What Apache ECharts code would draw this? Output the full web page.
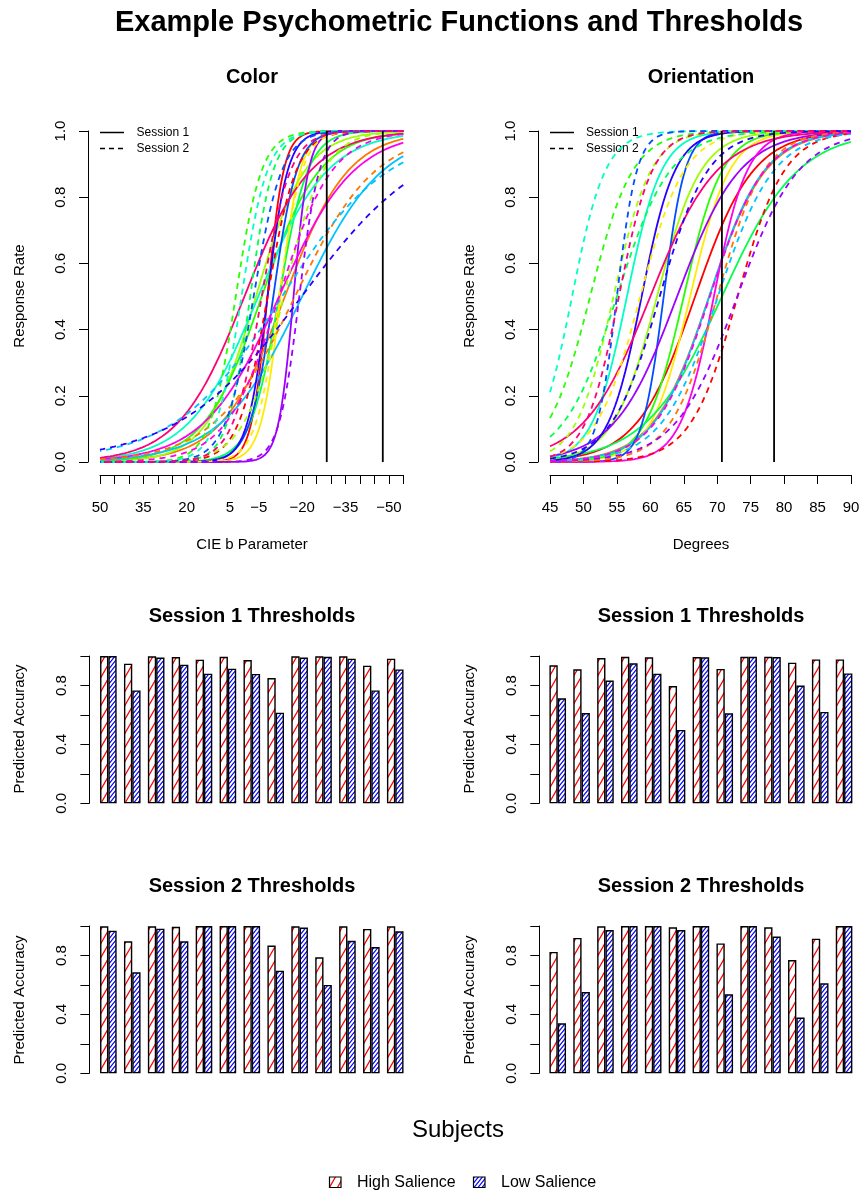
<!DOCTYPE html>
<html>
<head>
<meta charset="utf-8">
<script src="https://cdn.jsdelivr.net/npm/echarts@6/dist/echarts.min.js"></script>
<style>
  html, body { margin: 0; padding: 0; background: #fff; }
  #chart { width: 863px; height: 1191px; }
</style>
</head>
<body>
<div id="chart"></div>
<script>
// Subject colours (rainbow of 13 hues)
const subjectColors = ['#FF0000', '#FF7600', '#FFEB00', '#9DFF00', '#27FF00', '#00FF4E', '#00FFC4',
                       '#00C4FF', '#004EFF', '#2700FF', '#9D00FF', '#FF00EB', '#FF0076'];

// Psychometric fits, colour task (CIE b): 50% point and logistic spread per subject
const colorS1Mid   = [-8, -14, -12.5, -4, -6, -12, -4.8, -20, -10, -8, -17, -12, 0];
const colorS1Scale = [2.8, 11, 3.4, 8.5, 10, 5, 12, 14, 4.1, 3.5, 2.6, 13, 11.5];
const colorS2Mid   = [-8, -17.5, -12, -13.6, 3, -2, 1, -13, -3.2, -19.8, -19, -12, -6];
const colorS2Scale = [5, 14, 4, 6.9, 4.5, 4, 4.5, 18.6, 4.9, 21.5, 3.5, 9.2, 5];
const colorThresholds = [-28.5, -47.9];

// Psychometric fits, orientation task (degrees)
const orientS1Mid   = [66.7, 68.8, 65.95, 61, 65, 70.7, 56.5, 68.8, 62, 58.7, 64, 69.5, 60];
const orientS1Scale = [4.36, 4.22, 2.95, 3.3, 2.88, 5.7, 2.6, 4.13, 1.6, 2.5, 4.7, 2.5, 5];
const orientS2Mid   = [73.05, 70, 58.5, 54.5, 51, 55, 48.3, 70.1, 55, 61.4, 73, 68.9, 55.3];
const orientS2Scale = [3.5, 3.5, 3.3, 2.8, 3.2, 4, 2.5, 4.2, 1.5, 3.6, 4.6, 4.1, 2.5];
const orientThresholds = [70.7, 78.5];

// Predicted accuracy at the high / low salience thresholds
const subjects = ['1','2','3','4','5','6','7','8','9','10','11','12','13'];
const colorS1High  = [1.0, 0.948, 0.998, 0.993, 0.975, 0.995, 0.973, 0.85, 0.998, 0.998, 0.998, 0.934, 0.982];
const colorS1Low   = [1.0, 0.766, 0.989, 0.941, 0.88, 0.914, 0.878, 0.615, 0.989, 0.995, 0.982, 0.766, 0.909];
const colorS2High  = [0.998, 0.896, 0.998, 0.995, 1.0, 1.0, 1.0, 0.867, 0.998, 0.787, 0.998, 0.98, 0.998];
const colorS2Low   = [0.968, 0.686, 0.982, 0.896, 1.0, 1.0, 1.0, 0.697, 0.989, 0.60, 0.90, 0.857, 0.964];
const orientS1High = [0.937, 0.91, 0.986, 0.995, 0.991, 0.796, 0.993, 0.912, 0.995, 0.995, 0.955, 0.977, 0.977];
const orientS1Low  = [0.713, 0.613, 0.833, 0.95, 0.88, 0.498, 0.991, 0.611, 0.995, 0.993, 0.799, 0.62, 0.882];
const orientS2High = [0.824, 0.919, 0.998, 1.0, 1.0, 0.991, 1.0, 0.882, 1.0, 0.991, 0.769, 0.914, 1.0];
const orientS2Low  = [0.339, 0.552, 0.973, 1.0, 1.0, 0.973, 1.0, 0.536, 1.0, 0.928, 0.378, 0.611, 1.0];

// Axis tick labels
const colorTickLabels = [50, 35, 20, 5, -5, -20, -35, -50];
const orientTickLabels = [45, 50, 55, 60, 65, 70, 75, 80, 85, 90];

const FONT = '"Liberation Sans", Arial, Helvetica, sans-serif';

// logistic psychometric function
function psy(x, mid, scale, sign) {
  return 1 / (1 + Math.exp(-sign * (x - mid) / scale));
}
function curve(mid, scale, sign, lo, hi, step) {
  const pts = [];
  for (let x = lo; x <= hi + 1e-9; x += step) pts.push([+x.toFixed(3), psy(x, mid, scale, sign)]);
  return pts;
}

// hatching tiles for the bar fills
function hatch(color, w, h, lw) {
  const c = document.createElement('canvas');
  c.width = w; c.height = h;
  const g = c.getContext('2d');
  g.fillStyle = '#ffffff';
  g.fillRect(0, 0, w, h);
  g.strokeStyle = color;
  g.lineWidth = lw;
  g.beginPath();
  for (let n = -1; n <= 1; n++) {
    g.moveTo(-w, (2 + n) * h);
    g.lineTo(2 * w, (-1 + n) * h);
  }
  g.stroke();
  return c;
}
const redHatch = { image: hatch('#FF0000', 8, 14, 1.3), repeat: 'repeat' };
const blueHatch = { image: hatch('#0000FF', 4, 5, 1.1), repeat: 'repeat' };

const chart = echarts.init(document.getElementById('chart'), null, { renderer: 'canvas' });

const grids = [
  { left: 100, top: 131, width: 303.3, height: 331 },    // colour curves
  { left: 550, top: 131, width: 301, height: 331 },      // orientation curves
  { left: 96.4, top: 656, width: 310.8, height: 147.3 }, // colour S1 bars
  { left: 545.8, top: 656, width: 310.2, height: 147.3 },// orientation S1 bars
  { left: 96.4, top: 926, width: 310.8, height: 147.3 }, // colour S2 bars
  { left: 545.8, top: 926, width: 310.2, height: 147.3 } // orientation S2 bars
];

const axisTxt = { color: '#000', fontFamily: FONT, fontSize: 15 };
const blackLine = { show: true, onZero: false, lineStyle: { color: '#000', width: 1 } };
const outTick = { show: true, inside: false, length: 9, lineStyle: { color: '#000', width: 1 } };

function fmtNum(v) { return v < 0 ? '\u2212' + Math.abs(v) : String(v); }

const xAxes = [
  { gridIndex: 0, type: 'value', min: -55, max: 50, interval: 5, inverse: true, offset: 13,
    axisLine: blackLine, axisTick: outTick, splitLine: { show: false },
    axisLabel: Object.assign({ margin: 25, showMinLabel: true, showMaxLabel: true,
      formatter: v => colorTickLabels.indexOf(Math.round(v)) >= 0 ? fmtNum(Math.round(v)) : '' }, axisTxt) },
  { gridIndex: 1, type: 'value', min: 45, max: 90, interval: 5, offset: 13,
    axisLine: blackLine, axisTick: outTick, splitLine: { show: false },
    axisLabel: Object.assign({ margin: 25,
      formatter: v => orientTickLabels.indexOf(Math.round(v)) >= 0 ? String(Math.round(v)) : '' }, axisTxt) }
];
for (let g = 2; g < 6; g++) {
  xAxes.push({ gridIndex: g, type: 'category', data: subjects,
    axisLine: { show: false, onZero: false }, axisTick: { show: false }, axisLabel: { show: false }, splitLine: { show: false } });
}

const yAxes = [
  { gridIndex: 0, type: 'value', min: 0, max: 1, interval: 0.2, offset: 12,
    axisLine: blackLine, axisTick: outTick, splitLine: { show: false },
    axisLabel: Object.assign({ rotate: 90, margin: 20, formatter: v => v.toFixed(1) }, axisTxt) },
  { gridIndex: 1, type: 'value', min: 0, max: 1, interval: 0.2, offset: 12,
    axisLine: blackLine, axisTick: outTick, splitLine: { show: false },
    axisLabel: Object.assign({ rotate: 90, margin: 20, formatter: v => v.toFixed(1) }, axisTxt) }
];
for (let g = 2; g < 6; g++) {
  yAxes.push({ gridIndex: g, type: 'value', min: 0, max: 1, interval: 0.2,
    offset: g % 2 === 0 ? 7 : 6.5,
    axisLine: blackLine, axisTick: outTick, splitLine: { show: false },
    axisLabel: Object.assign({ rotate: 90, margin: 20,
      formatter: v => (Math.abs(v - 0.2) < 1e-6 || Math.abs(v - 0.6) < 1e-6 || Math.abs(v - 1) < 1e-6) ? '' : v.toFixed(1) }, axisTxt) });
}

const series = [];
function addCurves(axis, mids, scales, sign, lo, hi, step, dashed) {
  mids.forEach((m, i) => {
    series.push({
      type: 'line', xAxisIndex: axis, yAxisIndex: axis, silent: true,
      symbol: 'none', showSymbol: false, smooth: false, clip: true,
      lineStyle: { color: subjectColors[i], width: 1.8, type: dashed ? [6, 5] : 'solid' },
      data: curve(m, scales[i], sign, lo, hi, step),
      z: dashed ? 3 : 2
    });
  });
}
addCurves(0, colorS1Mid, colorS1Scale, -1, -55, 50, 0.5, false);
addCurves(0, colorS2Mid, colorS2Scale, -1, -55, 50, 0.5, true);
addCurves(1, orientS1Mid, orientS1Scale, 1, 45, 90, 0.25, false);
addCurves(1, orientS2Mid, orientS2Scale, 1, 45, 90, 0.25, true);

function addThresholds(axis, ts) {
  ts.forEach(t => series.push({
    type: 'line', xAxisIndex: axis, yAxisIndex: axis, silent: true, symbol: 'none',
    lineStyle: { color: '#000', width: 1.8 }, data: [[t, 0], [t, 1]], z: 5
  }));
}
addThresholds(0, colorThresholds);
addThresholds(1, orientThresholds);

function addBars(axis, high, low) {
  series.push({
    name: 'High Salience', type: 'bar', xAxisIndex: axis, yAxisIndex: axis, silent: true,
    barWidth: 8.3, barGap: '0%', data: high,
    itemStyle: { color: redHatch, borderColor: '#000', borderWidth: 1.4 }
  });
  series.push({
    name: 'Low Salience', type: 'bar', xAxisIndex: axis, yAxisIndex: axis, silent: true,
    barWidth: 8.3, barGap: '0%', data: low,
    itemStyle: { color: blueHatch, borderColor: '#000', borderWidth: 1.4 }
  });
}
addBars(2, colorS1High, colorS1Low);
addBars(3, orientS1High, orientS1Low);
addBars(4, colorS2High, colorS2Low);
addBars(5, orientS2High, orientS2Low);

function txt(x, y, s, size, opts) {
  opts = opts || {};
  return {
    type: 'text', x: x, y: y, rotation: opts.rot || 0, silent: true,
    style: { text: s, fill: '#000', font: (opts.bold ? 'bold ' : '') + size + 'px ' + FONT,
             textAlign: opts.align || 'center', textVerticalAlign: 'middle' }
  };
}
function keyLine(x, y, dashed) {
  return { type: 'line', silent: true, shape: { x1: x, y1: y, x2: x + 24, y2: y },
           style: { stroke: '#000', lineWidth: 1.5, lineDash: dashed ? [5, 4] : null } };
}

const graphics = [
  txt(459, 23, 'Example Psychometric Functions and Thresholds', 29, { bold: true }),
  txt(252, 77, 'Color', 20, { bold: true }),
  txt(701, 77, 'Orientation', 20, { bold: true }),
  txt(252, 616, 'Session 1 Thresholds', 20, { bold: true }),
  txt(701, 616, 'Session 1 Thresholds', 20, { bold: true }),
  txt(252, 886, 'Session 2 Thresholds', 20, { bold: true }),
  txt(701, 886, 'Session 2 Thresholds', 20, { bold: true }),
  txt(252, 545, 'CIE b Parameter', 15),
  txt(701, 545, 'Degrees', 15),
  txt(20, 296, 'Response Rate', 15, { rot: Math.PI / 2 }),
  txt(470, 296, 'Response Rate', 15, { rot: Math.PI / 2 }),
  txt(20, 729, 'Predicted Accuracy', 15, { rot: Math.PI / 2 }),
  txt(470, 729, 'Predicted Accuracy', 15, { rot: Math.PI / 2 }),
  txt(20, 1000, 'Predicted Accuracy', 15, { rot: Math.PI / 2 }),
  txt(470, 1000, 'Predicted Accuracy', 15, { rot: Math.PI / 2 }),
  txt(458, 1130, 'Subjects', 24),
  // line-type key inside the curve panels
  keyLine(100, 132.5, false), keyLine(100, 148.5, true),
  txt(136.5, 132.5, 'Session 1', 12, { align: 'left' }),
  txt(136.5, 148.5, 'Session 2', 12, { align: 'left' }),
  keyLine(550, 132.5, false), keyLine(550, 148.5, true),
  txt(586, 132.5, 'Session 1', 12, { align: 'left' }),
  txt(586, 148.5, 'Session 2', 12, { align: 'left' }),
  // fill key at the bottom
  { type: 'rect', silent: true, shape: { x: 329.5, y: 1177, width: 11.5, height: 10.5 },
    style: { fill: redHatch, stroke: '#000', lineWidth: 1.2 } },
  txt(357, 1182.5, 'High Salience', 16, { align: 'left' }),
  { type: 'rect', silent: true, shape: { x: 473.5, y: 1177, width: 11.5, height: 10.5 },
    style: { fill: blueHatch, stroke: '#000', lineWidth: 1.2 } },
  txt(501, 1182.5, 'Low Salience', 16, { align: 'left' })
];

chart.setOption({
  animation: false,
  backgroundColor: '#ffffff',
  grid: grids,
  xAxis: xAxes,
  yAxis: yAxes,
  series: series,
  graphic: graphics
});
</script>
</body>
</html>
